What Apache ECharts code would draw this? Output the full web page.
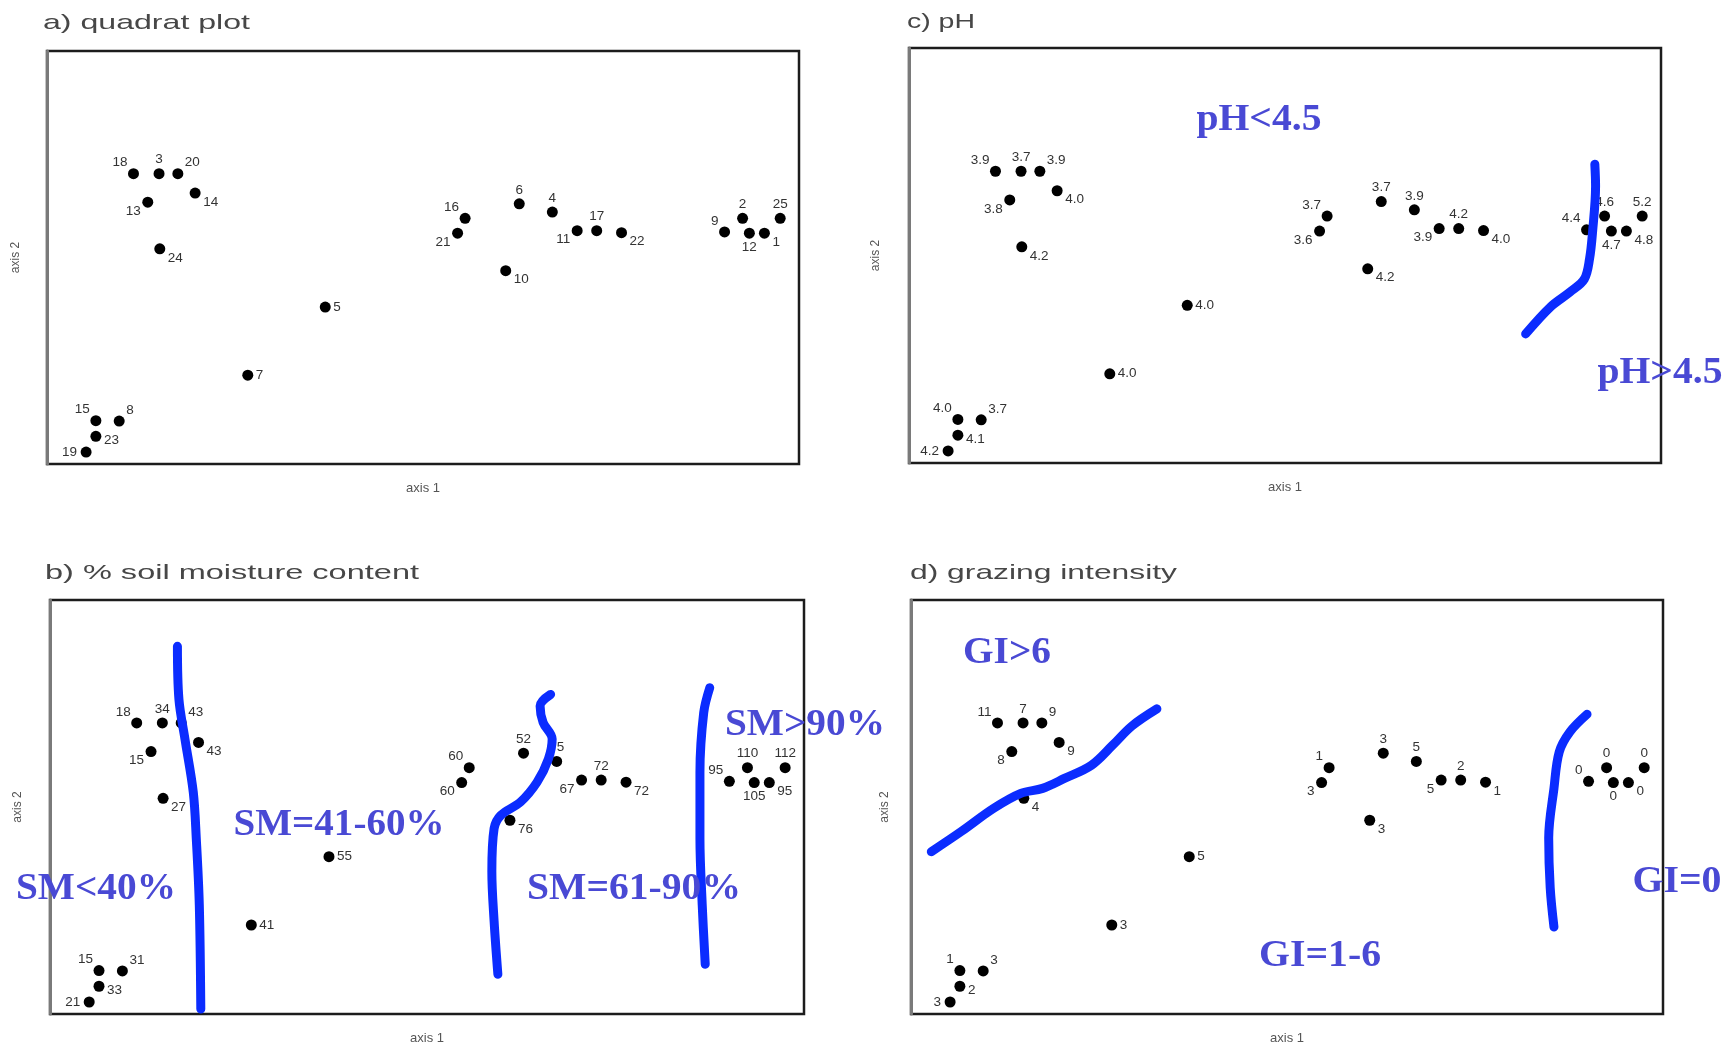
<!DOCTYPE html>
<html>
<head>
<meta charset="utf-8">
<title>Quadrat ordination</title>
<script src="https://cdn.jsdelivr.net/npm/echarts@6/dist/echarts.min.js"></script>
<style>
  html, body { margin: 0; padding: 0; background: #fff; }
  #chart { width: 1729px; height: 1046px; }
</style>
</head>
<body>
<div id="chart"></div>
<script>
// Ordination scores of quadrats 1..25 (axis 1, axis 2)
const quadrats   = ['1','2','3','4','5','6','7','8','9','10','11','12','13','14','15','16','17','18','19','20','21','22','23','24','25'];
const axis1Score = [95.4, 92.5, 14.9, 67.2, 37.0, 62.8, 26.7, 9.6, 90.1, 61.0, 70.5, 93.4, 13.4, 19.7, 6.5, 55.6, 73.1, 11.5, 5.2, 17.4, 54.6, 76.4, 6.5, 15.0, 97.5];
const axis2Score = [55.9, 59.5, 70.3, 61.0, 38.0, 63.0, 21.5, 10.4, 56.2, 46.8, 56.5, 55.9, 63.4, 65.6, 10.5, 59.5, 56.5, 70.3, 2.9, 70.3, 55.9, 56.0, 6.7, 52.1, 59.5];

// Environmental values recorded in each quadrat
const soilMoisture = ['95','110','34','75','55','52','41','31','95','76','67','105','15','43','15','60','72','18','21','43','60','72','33','27','112'];
const soilPH       = ['4.8','4.6','3.7','3.9','4.0','3.7','4.0','3.7','4.4','4.2','3.9','4.7','3.8','4.0','4.0','3.7','4.2','3.9','4.2','3.9','3.6','4.0','4.1','4.2','5.2'];
const grazing      = ['0','0','7','5','5','3','3','3','0','3','5','0','8','9','1','1','2','11','3','9','3','1','2','4','0'];

// Hand-drawn group boundaries (axis units)
const smBoundary1 = [[16.9,88.8],[17.1,76.0],[17.9,66.4],[19.0,53.6],[19.4,42.4],[19.8,26.4],[20.0,1.2]];
const smBoundary2 = [[66.4,77.2],[65.0,74.4],[65.4,70.4],[66.6,66.4],[66.1,61.6],[64.6,56.0],[62.4,51.2],[59.8,48.0],[58.9,44.8],[58.6,34.4],[58.9,22.4],[59.4,9.6]];
const smBoundary3 = [[87.5,78.8],[86.7,72.8],[86.2,58.4],[86.2,42.4],[86.5,26.4],[86.9,12.0]];
const phBoundary  = [[91.2,72.0],[91.3,66.7],[90.9,55.7],[90.5,49.2],[89.8,44.3],[87.9,41.2],[85.3,37.6],[82.0,31.1]];
const giBoundary1 = [[2.7,39.2],[6.7,44.1],[11.0,49.7],[14.6,53.3],[17.5,54.5],[20.4,56.9],[24.0,60.1],[26.8,64.9],[29.4,69.6],[32.7,73.7]];
const giBoundary2 = [[89.9,72.4],[87.6,68.1],[86.2,63.3],[85.5,54.5],[84.8,42.5],[85.0,30.5],[85.5,21.0]];

// Which side of its point each quadrat label sits on
const labelSide = ['br','t','t','t','r','t','r','tr','tl','br','bl','b','bl','br','tl','tl','t','tl','l','tr','bl','br','rb','br','t'];
const sideStyle = {
  t:  { align: 'center', verticalAlign: 'bottom', offset: [0, -7] },
  tl: { align: 'right',  verticalAlign: 'bottom', offset: [-6, -4] },
  tr: { align: 'left',   verticalAlign: 'bottom', offset: [7, -4] },
  r:  { align: 'left',   verticalAlign: 'middle', offset: [8, 0] },
  rb: { align: 'left',   verticalAlign: 'middle', offset: [8, 4] },
  l:  { align: 'right',  verticalAlign: 'middle', offset: [-9, 0] },
  br: { align: 'left',   verticalAlign: 'top',    offset: [8, 2] },
  bl: { align: 'right',  verticalAlign: 'top',    offset: [-7, 2] },
  b:  { align: 'center', verticalAlign: 'top',    offset: [0, 7] }
};

const panels = [
  { title: 'a) quadrat plot', labels: quadrats,
    grid: { left: 47, top: 51, width: 752, height: 413 }, yGap: 25,
    titleAt: [43, 23], titleWidth: 207, boundaries: [], notes: [] },
  { title: 'c) pH', labels: soilPH,
    grid: { left: 909, top: 48, width: 752, height: 415 }, yGap: 27,
    titleAt: [907, 22], titleWidth: 68, boundaries: [phBoundary],
    notes: [ { text: 'pH<4.5', at: [1259, 120], w: 125 }, { text: 'pH>4.5', at: [1660, 373], w: 125 } ] },
  { title: 'b) % soil moisture content', labels: soilMoisture,
    grid: { left: 50, top: 600, width: 754, height: 416 }, yGap: 26,
    titleAt: [45, 573], titleWidth: 374, boundaries: [smBoundary1, smBoundary2, smBoundary3],
    notes: [ { text: 'SM<40%', at: [96, 889], w: 160 }, { text: 'SM=41-60%', at: [339, 825], w: 211 },
             { text: 'SM=61-90%', at: [634, 889], w: 214 }, { text: 'SM>90%', at: [805, 725], w: 160 } ] },
  { title: 'd) grazing intensity', labels: grazing,
    grid: { left: 911, top: 600, width: 752, height: 417 }, yGap: 20,
    titleAt: [910, 573], titleWidth: 267, boundaries: [giBoundary1, giBoundary2],
    notes: [ { text: 'GI>6', at: [1007, 653], w: 88 }, { text: 'GI=1-6', at: [1320, 956], w: 122 },
             { text: 'GI=0', at: [1677, 882], w: 89 } ] }
];

const measureCtx = document.createElement('canvas').getContext('2d');
function textWidth(text, font) { measureCtx.font = font; return measureCtx.measureText(text).width; }

const titleFont = '21px "Liberation Sans", Arial, sans-serif';
const noteFont = 'bold 37px "Liberation Serif", "Times New Roman", serif';
const BLUE = '#0b2cff';

const grids = [], xAxes = [], yAxes = [], series = [], graphics = [];

panels.forEach((p, i) => {
  grids.push(Object.assign({ show: true, borderColor: '#1c1c1c', borderWidth: 2.5, backgroundColor: '#fff' }, p.grid));
  xAxes.push({
    gridIndex: i, type: 'value', min: 0, max: 100,
    name: 'axis 1', nameLocation: 'middle', nameGap: 18,
    nameTextStyle: { fontSize: 13, color: '#555', fontFamily: 'Liberation Sans' },
    axisLine: { show: false }, axisTick: { show: false }, axisLabel: { show: false }, splitLine: { show: false }
  });
  yAxes.push({
    gridIndex: i, type: 'value', min: 0, max: 100,
    name: 'axis 2', nameLocation: 'middle', nameGap: p.yGap,
    nameTextStyle: { fontSize: 12, color: '#555', fontFamily: 'Liberation Sans' },
    axisLine: { show: true, lineStyle: { color: '#7a7a7a', width: 3 } },
    axisTick: { show: false }, axisLabel: { show: false }, splitLine: { show: false }
  });

  series.push({
    type: 'scatter', xAxisIndex: i, yAxisIndex: i,
    symbol: 'circle', symbolSize: 11, z: 3,
    itemStyle: { color: '#000', opacity: 1 },
    data: quadrats.map((q, k) => {
      const s = sideStyle[labelSide[k]];
      return {
        name: q,
        value: [axis1Score[k], axis2Score[k]],
        label: {
          show: true, formatter: p.labels[k],
          position: ['50%', '50%'], align: s.align, verticalAlign: s.verticalAlign, offset: s.offset,
          fontSize: 13.5, color: '#333', fontFamily: '"Liberation Sans", Arial, sans-serif'
        }
      };
    })
  });

  p.boundaries.forEach(curve => {
    series.push({
      type: 'line', xAxisIndex: i, yAxisIndex: i, z: 5,
      data: curve, smooth: 0.35, symbol: 'none', silent: true,
      lineStyle: { color: BLUE, width: 9, cap: 'round', join: 'round', opacity: 1 }
    });
  });

  graphics.push({
    type: 'text', x: p.titleAt[0], y: p.titleAt[1],
    scaleX: p.titleWidth / textWidth(p.title, titleFont),
    style: { text: p.title, font: titleFont, fill: '#474747', textAlign: 'left', textVerticalAlign: 'middle' }
  });

  p.notes.forEach(n => {
    graphics.push({
      type: 'text', x: n.at[0], y: n.at[1], z: 10,
      scaleX: n.w / textWidth(n.text, noteFont),
      style: { text: n.text, font: noteFont, fill: '#4949d4', textAlign: 'center', textVerticalAlign: 'middle' }
    });
  });
});

const chart = echarts.init(document.getElementById('chart'), null, { renderer: 'canvas' });
chart.setOption({
  animation: false,
  backgroundColor: '#fff',
  grid: grids,
  xAxis: xAxes,
  yAxis: yAxes,
  series: series,
  graphic: graphics
});
</script>
</body>
</html>
